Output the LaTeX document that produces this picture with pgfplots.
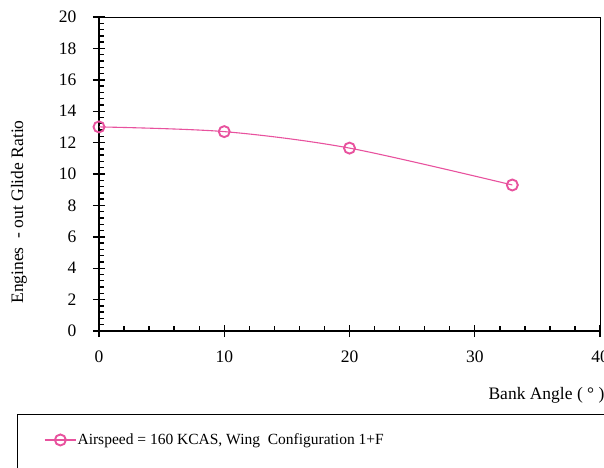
\documentclass[border=0pt]{standalone}
\usepackage{pgfplots}
\pgfplotsset{compat=1.18}
\usepackage{fontspec}
\setmainfont{Liberation Serif}
\definecolor{pinkCol}{RGB}{232,82,158}
\begin{document}
\begin{tikzpicture}
\begin{axis}[
  scale only axis, width=501pt, height=314pt,
  xmin=0, xmax=40, ymin=0, ymax=20,
  xtick={0,10,20,30,40}, ytick={0,2,...,20},
  minor x tick num=4, minor y tick num=4,
  axis lines=left, axis line style={-, line width=1.6pt},
  tick align=center, major tick length=12pt, minor tick length=5pt,
  every tick/.style={black, line width=1.4pt},
  minor x tick style={yshift=2.5pt}, minor y tick style={xshift=2.5pt},
  /pgf/number format/assume math mode=true,
  tick label style={font=\fontsize{17.5}{20}\selectfont},
  yticklabel style={xshift=-13pt},
  xticklabel style={yshift=-10pt},
  xlabel={Bank Angle ( ° )},
  xlabel style={at={(axis description cs:0.7705,-0.2038)}, anchor=west, font=\fontsize{17.5}{20}\selectfont},
  ylabel={Engines \ -\  out Glide Ratio},
  ylabel style={at={(axis description cs:-0.1597,0.379)}, anchor=center, rotate=0, font=\fontsize{17.5}{20}\selectfont},
  clip=false,
  legend style={draw=none, fill=none, inner sep=0pt, at={(axis description cs:-0.1098,-0.347)}, anchor=west,
    font=\fontsize{15.5}{18}\selectfont, nodes={inner sep=1pt}},
  legend image code/.code={\draw[mark repeat=2,mark phase=2] plot coordinates {(0cm,0cm) (0.55cm,0cm) (1.1cm,0cm)};},
]
\addplot[pinkCol, line width=1.1pt, smooth, mark=o, mark size=5.5pt,
  mark options={fill=white, line width=1.9pt}]
  coordinates {(0,13.0) (10,12.7) (20,11.65) (33,9.3)};
\addlegendentry{Airspeed = 160 KCAS, Wing \ Configuration 1+F}
\draw[line width=0.8pt] (rel axis cs:0,1) -- (rel axis cs:1,1) -- (rel axis cs:1,0);
\draw[line width=0.8pt] (axis description cs:1.02,-0.2643) -- (axis description cs:-0.1637,-0.2643) -- (axis description cs:-0.1637,-0.5);
\coordinate (bl) at (axis description cs:-0.1976,-0.4331);
\coordinate (tr) at (axis description cs:1.00798,1.05414);
\end{axis}
\pgfresetboundingbox
\path[use as bounding box] (bl) rectangle (tr);
\end{tikzpicture}
\end{document}
